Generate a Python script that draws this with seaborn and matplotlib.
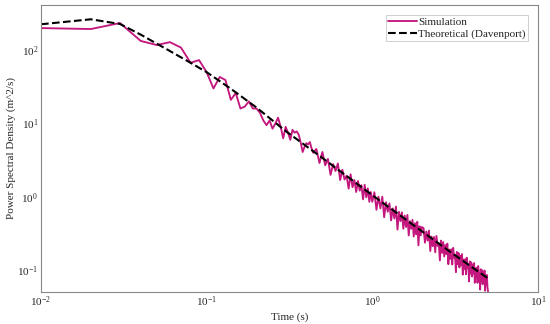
import numpy as np
import pandas as pd
import seaborn as sns
import matplotlib.pyplot as plt

# simulated spectrum, sampled on a 0.01 Hz grid (denser region thinned)
n_sim = np.concatenate([np.arange(1, 45), np.arange(46, 101, 2),
                        np.arange(103, 200, 3), np.arange(204, 501, 4)])
freq_sim = n_sim * 0.01
psd_sim = [
    199, 193, 233, 133, 117, 128, 108, 67, 73, 50,
    30, 43, 39, 21, 26, 16, 17, 20, 16, 16,
    14, 11, 9.5, 11, 8.5, 10, 12, 9, 6.3, 9.0,
    7.5, 6.0, 8.2, 7.5, 7.8, 7.0, 5.5, 4.1, 4.8, 5.4,
    5.2, 5.6, 4.6, 4.0,
    # 0.46 .. 1.00
    4.5, 2.9, 4.1, 2.7, 3.3, 2.0, 2.8, 2.26, 2.86, 1.7,
    2.35, 1.73, 1.95, 1.3, 2.04, 1.36, 1.7, 1.17, 1.65, 1.22,
    1.45, 0.93, 1.47, 0.99, 1.31, 0.86, 1.17, 0.86,
    # 1.03 .. 1.99
    1.16, 0.67, 1.01, 0.70, 1.01, 0.53, 0.85, 0.63, 0.82, 0.48,
    0.70, 0.51, 0.74, 0.36, 0.63, 0.47, 0.62, 0.37, 0.56, 0.39,
    0.57, 0.30, 0.47, 0.37, 0.49, 0.29, 0.44, 0.31, 0.46, 0.22,
    0.40, 0.30, 0.39,
    # 2.04 .. 5.00
    0.378, 0.239, 0.340, 0.255, 0.349, 0.184, 0.289, 0.214, 0.286, 0.177,
    0.295, 0.216, 0.234, 0.137, 0.255, 0.174, 0.244, 0.155, 0.222, 0.167,
    0.232, 0.122, 0.193, 0.144, 0.194, 0.121, 0.203, 0.149, 0.162, 0.095,
    0.179, 0.122, 0.173, 0.110, 0.158, 0.120, 0.167, 0.088, 0.141, 0.105,
    0.142, 0.089, 0.149, 0.110, 0.120, 0.071, 0.133, 0.091, 0.129, 0.083,
    0.120, 0.091, 0.126, 0.068, 0.107, 0.081, 0.109, 0.068, 0.115, 0.085,
    0.093, 0.055, 0.104, 0.072, 0.101, 0.065, 0.094, 0.072, 0.100, 0.053,
    0.085, 0.064, 0.087, 0.059, 0.052,
]

# theoretical Davenport curve
freq_theo = [0.01, 0.02, 0.03, 0.04, 0.05, 0.06, 0.08, 0.1, 0.14, 0.2,
             0.3, 0.5, 1.0, 2.0, 3.0, 5.0]
psd_theo = [224, 262, 226, 162, 122, 97, 67, 50, 29.7, 16.5,
            7.9, 3.4, 1.06, 0.34, 0.175, 0.078]

df_sim = pd.DataFrame({'f': freq_sim, 'S': psd_sim})
df_theo = pd.DataFrame({'f': freq_theo, 'S': psd_theo})

sns.set_theme(style='white')
plt.rcParams['font.family'] = ['Liberation Serif', 'DejaVu Serif']
plt.rcParams['mathtext.fontset'] = 'custom'
plt.rcParams['mathtext.rm'] = 'Liberation Serif'
plt.rcParams['mathtext.it'] = 'Liberation Serif:italic'

fig = plt.figure(figsize=(5.5, 3.24), dpi=100)
ax = fig.add_axes([0.0745, 0.0988, 0.9035, 0.8858])

sns.lineplot(data=df_sim, x='f', y='S', ax=ax, color='#c4187f', lw=1.35,
             label='Simulation')
sns.lineplot(data=df_theo, x='f', y='S', ax=ax, color='black', lw=1.5,
             ls='--', label='Theoretical (Davenport)')

ax.set_xscale('log')
ax.set_yscale('log')
ax.set_xlim(0.01, 10)
ax.set_ylim(0.051, 410)
ax.set_xlabel('Time (s)', fontsize=8, labelpad=2)
ax.set_ylabel('Power Spectral Density (m^2/s)', fontsize=8, labelpad=1)
ax.tick_params(labelsize=8, length=1.5, width=0.6, color='#888888', pad=0.5)
ax.tick_params(which='minor', length=1, width=0.4, color='#aaaaaa')
for sp in ax.spines.values():
    sp.set_color('#888888')
    sp.set_linewidth(0.8)

leg = ax.legend(loc='upper right', fontsize=8, fancybox=False, frameon=True,
                borderpad=0.2, handlelength=2.6, handletextpad=0.1,
                labelspacing=0.15, borderaxespad=0.9)
leg.get_frame().set_edgecolor('#bbbbbb')
leg.get_frame().set_linewidth(0.6)

fig.savefig('out.png', dpi=100)
